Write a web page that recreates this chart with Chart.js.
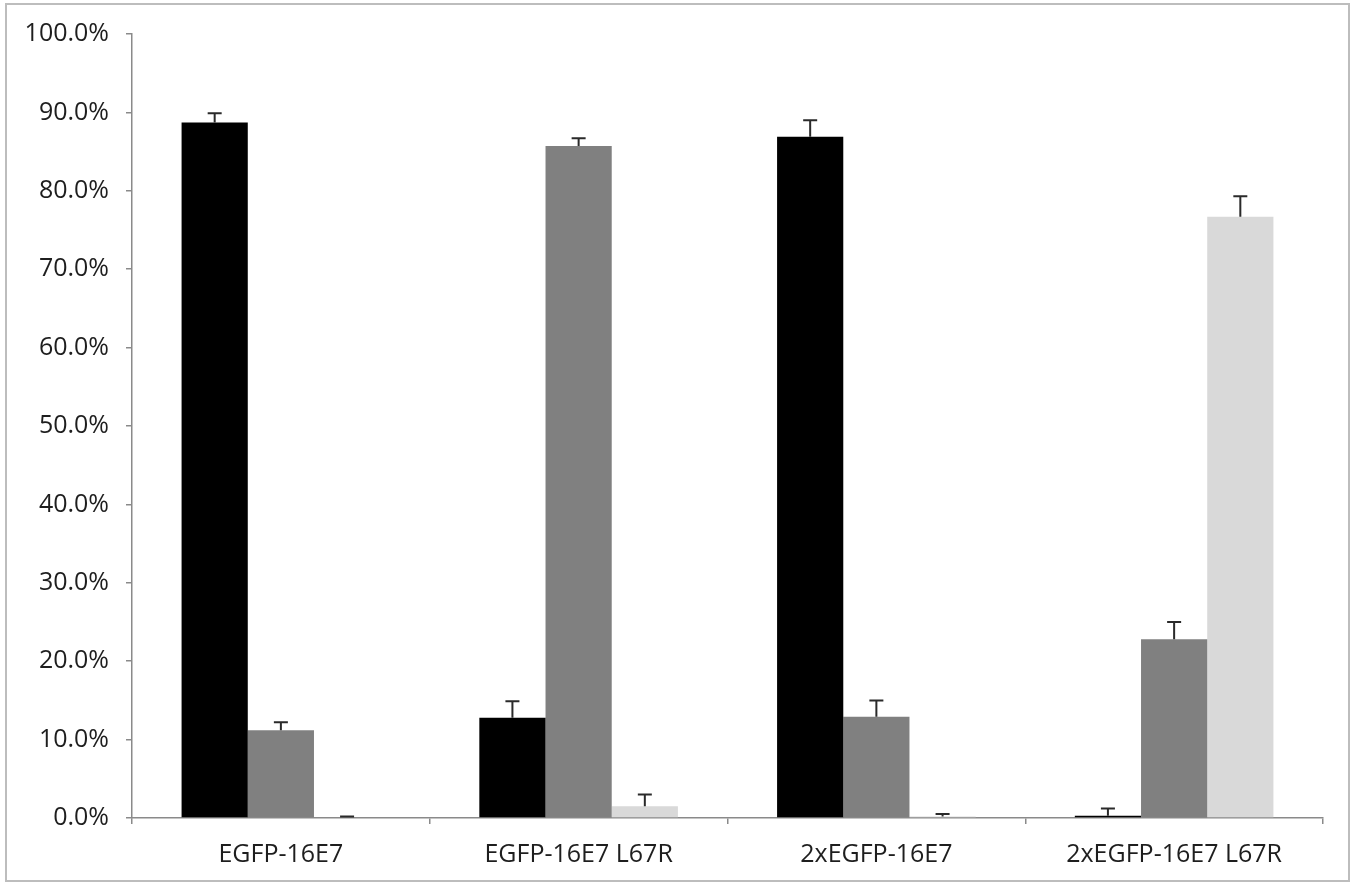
<!DOCTYPE html>
<html><head><meta charset="utf-8">
<script src="https://cdn.jsdelivr.net/npm/chart.js@4"></script>
<style>html,body{margin:0;padding:0;background:#fff}#wrap{width:1355px;height:884px;position:relative}</style>
</head><body><div id="wrap"><canvas id="c" width="1355" height="884"></canvas></div>
<script>
const categories = ['EGFP-16E7', 'EGFP-16E7 L67R', '2xEGFP-16E7', '2xEGFP-16E7 L67R'];
const seriesBlack = [88.7, 12.8, 86.9, 0.3];
const seriesGray = [11.2, 85.7, 12.9, 22.8];
const seriesLight = [0.1, 1.5, 0.2, 76.7];
const errBlack = [1.2, 2.1, 2.1, 0.9];
const errGray = [1.0, 1.0, 2.1, 2.2];
const errLight = [0.1, 1.5, 0.3, 2.6];
const yTicks = [0, 10, 20, 30, 40, 50, 60, 70, 80, 90, 100];

const FONT = 'Open Sans';

const errorBars = {
  id: 'errorBars',
  afterDatasetsDraw(chart) {
    const ctx = chart.ctx, y = chart.scales.y;
    chart.data.datasets.forEach((ds, i) => {
      const meta = chart.getDatasetMeta(i);
      meta.data.forEach((el, j) => {
        const top = y.getPixelForValue(ds.data[j] + ds.errors[j]);
        const base = el.y;
        ctx.save();
        ctx.strokeStyle = '#2a2a2a';
        ctx.lineWidth = 2;
        ctx.beginPath();
        ctx.moveTo(el.x, base);
        ctx.lineTo(el.x, top);
        ctx.moveTo(el.x - 7, top);
        ctx.lineTo(el.x + 7, top);
        ctx.stroke();
        ctx.restore();
      });
    });
  }
};
const frame = {
  id: 'frame',
  beforeDraw(chart) {
    const ctx = chart.ctx;
    ctx.save();
    ctx.fillStyle = '#fff';
    ctx.fillRect(0, 0, chart.width, chart.height);
    ctx.strokeStyle = '#bdbdbd';
    ctx.lineWidth = 2;
    ctx.strokeRect(6, 4, 1343, 877);
    ctx.restore();
  }
};

new Chart(document.getElementById('c'), {
  type: 'bar',
  data: {
    labels: categories,
    datasets: [
      { data: seriesBlack, errors: errBlack, backgroundColor: '#000000' },
      { data: seriesGray, errors: errGray, backgroundColor: '#808080' },
      { data: seriesLight, errors: errLight, backgroundColor: '#d9d9d9' }
    ]
  },
  options: {
    responsive: false,
    animation: false,
    devicePixelRatio: 1,
    layout: { padding: { top: 34, right: 32, left: 0, bottom: 0 } },
    datasets: { bar: { categoryPercentage: 0.667, barPercentage: 1.0 } },
    plugins: { legend: { display: false }, tooltip: { enabled: false } },
    scales: {
      x: {
        grid: { display: true, drawOnChartArea: false, drawTicks: true, tickLength: 6, color: '#8a8a8a', lineWidth: 1.5, offset: true },
        border: { display: true, color: '#8a8a8a', width: 1.5 },
        ticks: { color: '#1e1e1e', font: { family: FONT, size: 25 }, padding: 16, maxRotation: 0 },
        afterFit(s) { s.height = 884 - 818; }
      },
      y: {
        min: 0, max: 100,
        afterBuildTicks(s) { s.ticks = yTicks.map(v => ({ value: v })); },
        grid: { display: true, drawOnChartArea: false, drawTicks: true, tickLength: 6, color: '#8a8a8a', lineWidth: 1.5 },
        border: { display: true, color: '#8a8a8a', width: 1.5 },
        ticks: { color: '#1e1e1e', font: { family: FONT, size: 25 }, padding: 17, callback: v => v.toFixed(1) + '%' },
        afterFit(s) { s.width = 132; }
      }
    }
  },
  plugins: [frame, errorBars]
});
</script></body></html>
